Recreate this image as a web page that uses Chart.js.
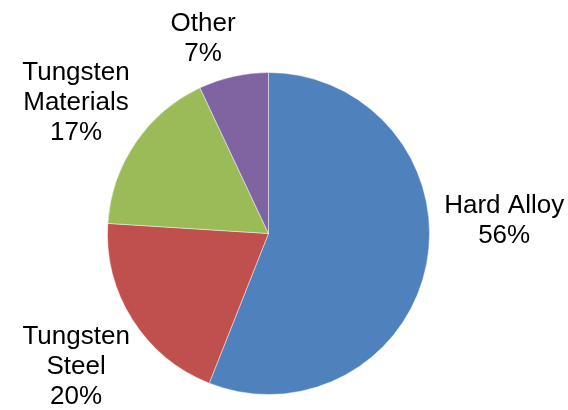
<!DOCTYPE html>
<html>
<head>
<meta charset="utf-8">
<script src="https://cdn.jsdelivr.net/npm/chart.js@4/dist/chart.umd.min.js"></script>
<style>
    html, body { margin: 0; padding: 0; background: #ffffff; }
    #usage { display: block; }
</style>
</head>
<body>
<canvas id="usage" width="568" height="410"></canvas>
<script>
// tungsten consumption by end use (%)
const categories = ["Hard Alloy", "Tungsten Steel", "Tungsten Materials", "Other"];
const shares = [56, 20, 17, 7];
const sliceColors = ["#4F81BD", "#C0504D", "#9BBB59", "#8064A2"];

// label lines: category name split where the original wraps
const labelLines = [["Hard Alloy"], ["Tungsten", "Steel"], ["Tungsten", "Materials"], ["Other"]];

// outside labels, placed along each slice's mid angle
// turn = degrees to rotate away from the mid angle, out = px past the rim
const labelLayout = [
    { turn: -13.8, out: 75 },
    { turn: -2.3, out: 73 },
    { turn: -0.1, out: 71.5 },
    { turn: -6.0, out: 44 }
];

const outsideLabels = {
    id: "outsideLabels",
    afterDatasetsDraw(chart) {
        const ctx = chart.ctx;
        const meta = chart.getDatasetMeta(0);
        const values = chart.data.datasets[0].data;
        const total = values.reduce((a, b) => a + b, 0);
        const lineH = 30;

        ctx.save();
        ctx.font = "26px 'Liberation Sans', Arial, sans-serif";
        ctx.fillStyle = "#000000";
        ctx.textAlign = "center";
        ctx.textBaseline = "middle";

        meta.data.forEach((arc, i) => {
            const p = arc.getProps(["x", "y", "startAngle", "endAngle", "outerRadius"], true);
            const lay = labelLayout[i];
            const mid = (p.startAngle + p.endAngle) / 2 + lay.turn * Math.PI / 180;
            const dist = p.outerRadius + lay.out;
            const cx = p.x + Math.cos(mid) * dist;
            const cy = p.y + Math.sin(mid) * dist;

            const lines = labelLines[i].concat([Math.round(values[i] / total * 100) + "%"]);
            const top = cy - (lines.length - 1) * lineH / 2;
            lines.forEach((txt, k) => {
                ctx.fillText(txt, cx, top + k * lineH);
            });
        });
        ctx.restore();
    }
};

new Chart(document.getElementById("usage"), {
    type: "pie",
    data: {
        labels: categories,
        datasets: [{
            data: shares,
            backgroundColor: sliceColors,
            borderColor: "rgba(255,255,255,0.45)",
            borderWidth: 1
        }]
    },
    options: {
        responsive: false,
        animation: false,
        layout: {
            padding: { top: 72, bottom: 15, left: 107, right: 138 }
        },
        plugins: {
            legend: { display: false },
            tooltip: { enabled: false }
        }
    },
    plugins: [outsideLabels]
});
</script>
</body>
</html>
